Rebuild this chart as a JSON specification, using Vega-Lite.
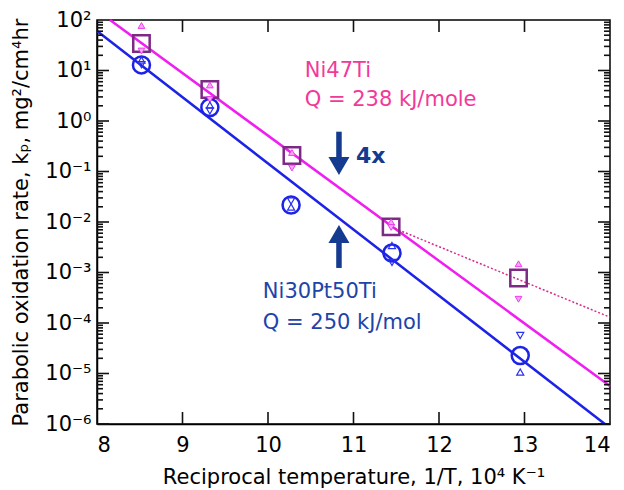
{
  "$schema": "https://vega.github.io/schema/vega-lite/v6.json",
  "width": 513,
  "height": 404,
  "autosize": {"type": "none"},
  "padding": {"left": 97, "top": 20, "right": 14, "bottom": 66},
  "background": "white",
  "config": {
    "view": {"stroke": "#000", "strokeWidth": 1.5}
  },
  "datasets": {
    "lines": [
      {"x": 8.152, "y": 100, "line": "Ni47Ti fit"},
      {"x": 14, "y": 0.00000565, "line": "Ni47Ti fit"},
      {"x": 8, "y": 60.3, "line": "Ni30Pt50Ti fit"},
      {"x": 13.94, "y": 0.000001, "line": "Ni30Pt50Ti fit"},
      {"x": 11.44, "y": 0.0080, "line": "Ni47Ti trend"},
      {"x": 14, "y": 0.00013, "line": "Ni47Ti trend"}
    ],
    "markers": [
      {"x": 8.52, "y": 34.3, "series": "Ni47Ti", "kind": "main"},
      {"x": 9.32, "y": 4.2, "series": "Ni47Ti", "kind": "main"},
      {"x": 10.28, "y": 0.207, "series": "Ni47Ti", "kind": "main"},
      {"x": 11.44, "y": 0.0080, "series": "Ni47Ti", "kind": "main"},
      {"x": 12.93, "y": 0.00078, "series": "Ni47Ti", "kind": "main"},
      {"x": 8.52, "y": 12.9, "series": "Ni30Pt50Ti", "kind": "main"},
      {"x": 9.32, "y": 1.85, "series": "Ni30Pt50Ti", "kind": "main"},
      {"x": 10.27, "y": 0.0217, "series": "Ni30Pt50Ti", "kind": "main"},
      {"x": 11.45, "y": 0.00243, "series": "Ni30Pt50Ti", "kind": "main"},
      {"x": 12.95, "y": 0.0000227, "series": "Ni30Pt50Ti", "kind": "main"},
      {"x": 8.52, "y": 77.8, "series": "Ni47Ti", "kind": "up"},
      {"x": 8.52, "y": 24.3, "series": "Ni47Ti", "kind": "down"},
      {"x": 9.32, "y": 5.16, "series": "Ni47Ti", "kind": "up"},
      {"x": 9.32, "y": 2.67, "series": "Ni47Ti", "kind": "down"},
      {"x": 10.28, "y": 0.238, "series": "Ni47Ti", "kind": "up"},
      {"x": 10.28, "y": 0.117, "series": "Ni47Ti", "kind": "down"},
      {"x": 11.44, "y": 0.0100, "series": "Ni47Ti", "kind": "up"},
      {"x": 11.44, "y": 0.0078, "series": "Ni47Ti", "kind": "down"},
      {"x": 12.93, "y": 0.00149, "series": "Ni47Ti", "kind": "up"},
      {"x": 12.93, "y": 0.000295, "series": "Ni47Ti", "kind": "down"},
      {"x": 8.52, "y": 16.1, "series": "Ni30Pt50Ti", "kind": "up"},
      {"x": 8.52, "y": 13.0, "series": "Ni30Pt50Ti", "kind": "down"},
      {"x": 9.32, "y": 2.07, "series": "Ni30Pt50Ti", "kind": "up"},
      {"x": 9.32, "y": 1.58, "series": "Ni30Pt50Ti", "kind": "down"},
      {"x": 10.27, "y": 0.0198, "series": "Ni30Pt50Ti", "kind": "up"},
      {"x": 10.27, "y": 0.026, "series": "Ni30Pt50Ti", "kind": "down"},
      {"x": 11.45, "y": 0.00343, "series": "Ni30Pt50Ti", "kind": "up"},
      {"x": 11.45, "y": 0.00158, "series": "Ni30Pt50Ti", "kind": "down"},
      {"x": 12.95, "y": 0.0000107, "series": "Ni30Pt50Ti", "kind": "up"},
      {"x": 12.95, "y": 0.0000565, "series": "Ni30Pt50Ti", "kind": "down"}
    ],
    "shafts": [
      {"x": 10.83, "y": 0.614, "y2": 0.169, "dir": "down"},
      {"x": 10.83, "y": 0.00123, "y2": 0.0044, "dir": "up"}
    ],
    "heads": [
      {"x": 10.83, "y": 0.1285, "dir": "down"},
      {"x": 10.83, "y": 0.00578, "dir": "up"}
    ],
    "notes": [
      {"x": 10.43, "y": 7.43, "text": "Ni47Ti", "group": "Ni47Ti"},
      {"x": 10.43, "y": 1.94, "text": "Q = 238 kJ/mole", "group": "Ni47Ti"},
      {"x": 9.94, "y": 0.000313, "text": "Ni30Pt50Ti", "group": "Ni30Pt50Ti"},
      {"x": 9.94, "y": 0.000076, "text": "Q = 250 kJ/mol", "group": "Ni30Pt50Ti"},
      {"x": 11.03, "y": 0.147, "text": "4x", "group": "ratio"}
    ],
    "xticks": [
      {"v": 9, "y0": 0.000001, "y1": 0.000001729},
      {"v": 10, "y0": 0.000001, "y1": 0.000001729},
      {"v": 11, "y0": 0.000001, "y1": 0.000001729},
      {"v": 12, "y0": 0.000001, "y1": 0.000001729},
      {"v": 13, "y0": 0.000001, "y1": 0.000001729},
      {"v": 9, "y0": 100, "y1": 57.83},
      {"v": 10, "y0": 100, "y1": 57.83},
      {"v": 11, "y0": 100, "y1": 57.83},
      {"v": 12, "y0": 100, "y1": 57.83},
      {"v": 13, "y0": 100, "y1": 57.83}
    ],
    "yticks": [
      {"v": 1e-6, "x0": 8, "x1": 8.1404}, {"v": 2e-6, "x0": 8, "x1": 8.0702}, {"v": 3e-6, "x0": 8, "x1": 8.0702}, {"v": 4e-6, "x0": 8, "x1": 8.0702}, {"v": 5e-6, "x0": 8, "x1": 8.0702}, {"v": 6e-6, "x0": 8, "x1": 8.0702}, {"v": 7e-6, "x0": 8, "x1": 8.0702}, {"v": 8e-6, "x0": 8, "x1": 8.0702}, {"v": 9e-6, "x0": 8, "x1": 8.0702},
      {"v": 1e-5, "x0": 8, "x1": 8.1404}, {"v": 2e-5, "x0": 8, "x1": 8.0702}, {"v": 3e-5, "x0": 8, "x1": 8.0702}, {"v": 4e-5, "x0": 8, "x1": 8.0702}, {"v": 5e-5, "x0": 8, "x1": 8.0702}, {"v": 6e-5, "x0": 8, "x1": 8.0702}, {"v": 7e-5, "x0": 8, "x1": 8.0702}, {"v": 8e-5, "x0": 8, "x1": 8.0702}, {"v": 9e-5, "x0": 8, "x1": 8.0702},
      {"v": 1e-4, "x0": 8, "x1": 8.1404}, {"v": 2e-4, "x0": 8, "x1": 8.0702}, {"v": 3e-4, "x0": 8, "x1": 8.0702}, {"v": 4e-4, "x0": 8, "x1": 8.0702}, {"v": 5e-4, "x0": 8, "x1": 8.0702}, {"v": 6e-4, "x0": 8, "x1": 8.0702}, {"v": 7e-4, "x0": 8, "x1": 8.0702}, {"v": 8e-4, "x0": 8, "x1": 8.0702}, {"v": 9e-4, "x0": 8, "x1": 8.0702},
      {"v": 1e-3, "x0": 8, "x1": 8.1404}, {"v": 2e-3, "x0": 8, "x1": 8.0702}, {"v": 3e-3, "x0": 8, "x1": 8.0702}, {"v": 4e-3, "x0": 8, "x1": 8.0702}, {"v": 5e-3, "x0": 8, "x1": 8.0702}, {"v": 6e-3, "x0": 8, "x1": 8.0702}, {"v": 7e-3, "x0": 8, "x1": 8.0702}, {"v": 8e-3, "x0": 8, "x1": 8.0702}, {"v": 9e-3, "x0": 8, "x1": 8.0702},
      {"v": 1e-2, "x0": 8, "x1": 8.1404}, {"v": 2e-2, "x0": 8, "x1": 8.0702}, {"v": 3e-2, "x0": 8, "x1": 8.0702}, {"v": 4e-2, "x0": 8, "x1": 8.0702}, {"v": 5e-2, "x0": 8, "x1": 8.0702}, {"v": 6e-2, "x0": 8, "x1": 8.0702}, {"v": 7e-2, "x0": 8, "x1": 8.0702}, {"v": 8e-2, "x0": 8, "x1": 8.0702}, {"v": 9e-2, "x0": 8, "x1": 8.0702},
      {"v": 0.1, "x0": 8, "x1": 8.1404}, {"v": 0.2, "x0": 8, "x1": 8.0702}, {"v": 0.3, "x0": 8, "x1": 8.0702}, {"v": 0.4, "x0": 8, "x1": 8.0702}, {"v": 0.5, "x0": 8, "x1": 8.0702}, {"v": 0.6, "x0": 8, "x1": 8.0702}, {"v": 0.7, "x0": 8, "x1": 8.0702}, {"v": 0.8, "x0": 8, "x1": 8.0702}, {"v": 0.9, "x0": 8, "x1": 8.0702},
      {"v": 1, "x0": 8, "x1": 8.1404}, {"v": 2, "x0": 8, "x1": 8.0702}, {"v": 3, "x0": 8, "x1": 8.0702}, {"v": 4, "x0": 8, "x1": 8.0702}, {"v": 5, "x0": 8, "x1": 8.0702}, {"v": 6, "x0": 8, "x1": 8.0702}, {"v": 7, "x0": 8, "x1": 8.0702}, {"v": 8, "x0": 8, "x1": 8.0702}, {"v": 9, "x0": 8, "x1": 8.0702},
      {"v": 10, "x0": 8, "x1": 8.1404}, {"v": 20, "x0": 8, "x1": 8.0702}, {"v": 30, "x0": 8, "x1": 8.0702}, {"v": 40, "x0": 8, "x1": 8.0702}, {"v": 50, "x0": 8, "x1": 8.0702}, {"v": 60, "x0": 8, "x1": 8.0702}, {"v": 70, "x0": 8, "x1": 8.0702}, {"v": 80, "x0": 8, "x1": 8.0702}, {"v": 90, "x0": 8, "x1": 8.0702},
      {"v": 1e-6, "x0": 14, "x1": 13.8596}, {"v": 2e-6, "x0": 14, "x1": 13.9298}, {"v": 3e-6, "x0": 14, "x1": 13.9298}, {"v": 4e-6, "x0": 14, "x1": 13.9298}, {"v": 5e-6, "x0": 14, "x1": 13.9298}, {"v": 6e-6, "x0": 14, "x1": 13.9298}, {"v": 7e-6, "x0": 14, "x1": 13.9298}, {"v": 8e-6, "x0": 14, "x1": 13.9298}, {"v": 9e-6, "x0": 14, "x1": 13.9298},
      {"v": 1e-5, "x0": 14, "x1": 13.8596}, {"v": 2e-5, "x0": 14, "x1": 13.9298}, {"v": 3e-5, "x0": 14, "x1": 13.9298}, {"v": 4e-5, "x0": 14, "x1": 13.9298}, {"v": 5e-5, "x0": 14, "x1": 13.9298}, {"v": 6e-5, "x0": 14, "x1": 13.9298}, {"v": 7e-5, "x0": 14, "x1": 13.9298}, {"v": 8e-5, "x0": 14, "x1": 13.9298}, {"v": 9e-5, "x0": 14, "x1": 13.9298},
      {"v": 1e-4, "x0": 14, "x1": 13.8596}, {"v": 2e-4, "x0": 14, "x1": 13.9298}, {"v": 3e-4, "x0": 14, "x1": 13.9298}, {"v": 4e-4, "x0": 14, "x1": 13.9298}, {"v": 5e-4, "x0": 14, "x1": 13.9298}, {"v": 6e-4, "x0": 14, "x1": 13.9298}, {"v": 7e-4, "x0": 14, "x1": 13.9298}, {"v": 8e-4, "x0": 14, "x1": 13.9298}, {"v": 9e-4, "x0": 14, "x1": 13.9298},
      {"v": 1e-3, "x0": 14, "x1": 13.8596}, {"v": 2e-3, "x0": 14, "x1": 13.9298}, {"v": 3e-3, "x0": 14, "x1": 13.9298}, {"v": 4e-3, "x0": 14, "x1": 13.9298}, {"v": 5e-3, "x0": 14, "x1": 13.9298}, {"v": 6e-3, "x0": 14, "x1": 13.9298}, {"v": 7e-3, "x0": 14, "x1": 13.9298}, {"v": 8e-3, "x0": 14, "x1": 13.9298}, {"v": 9e-3, "x0": 14, "x1": 13.9298},
      {"v": 1e-2, "x0": 14, "x1": 13.8596}, {"v": 2e-2, "x0": 14, "x1": 13.9298}, {"v": 3e-2, "x0": 14, "x1": 13.9298}, {"v": 4e-2, "x0": 14, "x1": 13.9298}, {"v": 5e-2, "x0": 14, "x1": 13.9298}, {"v": 6e-2, "x0": 14, "x1": 13.9298}, {"v": 7e-2, "x0": 14, "x1": 13.9298}, {"v": 8e-2, "x0": 14, "x1": 13.9298}, {"v": 9e-2, "x0": 14, "x1": 13.9298},
      {"v": 0.1, "x0": 14, "x1": 13.8596}, {"v": 0.2, "x0": 14, "x1": 13.9298}, {"v": 0.3, "x0": 14, "x1": 13.9298}, {"v": 0.4, "x0": 14, "x1": 13.9298}, {"v": 0.5, "x0": 14, "x1": 13.9298}, {"v": 0.6, "x0": 14, "x1": 13.9298}, {"v": 0.7, "x0": 14, "x1": 13.9298}, {"v": 0.8, "x0": 14, "x1": 13.9298}, {"v": 0.9, "x0": 14, "x1": 13.9298},
      {"v": 1, "x0": 14, "x1": 13.8596}, {"v": 2, "x0": 14, "x1": 13.9298}, {"v": 3, "x0": 14, "x1": 13.9298}, {"v": 4, "x0": 14, "x1": 13.9298}, {"v": 5, "x0": 14, "x1": 13.9298}, {"v": 6, "x0": 14, "x1": 13.9298}, {"v": 7, "x0": 14, "x1": 13.9298}, {"v": 8, "x0": 14, "x1": 13.9298}, {"v": 9, "x0": 14, "x1": 13.9298},
      {"v": 10, "x0": 14, "x1": 13.8596}, {"v": 20, "x0": 14, "x1": 13.9298}, {"v": 30, "x0": 14, "x1": 13.9298}, {"v": 40, "x0": 14, "x1": 13.9298}, {"v": 50, "x0": 14, "x1": 13.9298}, {"v": 60, "x0": 14, "x1": 13.9298}, {"v": 70, "x0": 14, "x1": 13.9298}, {"v": 80, "x0": 14, "x1": 13.9298}, {"v": 90, "x0": 14, "x1": 13.9298}
    ]
  },
  "layer": [
    {
      "data": {"name": "lines"},
      "transform": [{"filter": "datum.line == 'Ni47Ti fit'"}],
      "mark": {"type": "line", "color": "#f01ef0", "strokeWidth": 2.5},
      "encoding": {
        "x": {
          "field": "x", "type": "quantitative",
          "scale": {"domain": [8, 14], "nice": false, "zero": false},
          "axis": {
            "orient": "bottom",
            "values": [8, 9, 10, 11, 12, 13, 14],
            "format": "d",
            "grid": false,
            "domainColor": "#000000",
            "domainWidth": 1.5,
            "ticks": false,
            "labelPadding": 10,
            "labelFont": "DejaVu Sans",
            "labelFontSize": 21,
            "labelColor": "#000000",
            "titlePadding": 11,
            "titleFont": "DejaVu Sans",
            "titleFontSize": 21,
            "titleFontWeight": "normal",
            "titleColor": "#000000",
            "title": "Reciprocal temperature, 1/T, 10⁴ K⁻¹"
          }
        },
        "y": {
          "field": "y", "type": "quantitative",
          "scale": {"type": "log", "domain": [0.000001, 100], "nice": false},
          "axis": {
            "orient": "left",
            "values": [0.000001, 0.00001, 0.0001, 0.001, 0.01, 0.1, 1, 10, 100],
            "grid": false,
            "domainColor": "#000000",
            "domainWidth": 1.5,
            "ticks": false,
            "labelExpr": "['10⁻⁶','10⁻⁵','10⁻⁴','10⁻³','10⁻²','10⁻¹','10⁰','10¹','10²'][round(log(datum.value)/LN10)+6]",
            "labelOverlap": false,
            "labelBaseline": "middle",
            "labelPadding": 6,
            "labelFont": "DejaVu Sans",
            "labelFontSize": 21,
            "labelColor": "#000000",
            "titlePadding": 13,
            "titleFont": "DejaVu Sans",
            "titleFontSize": 21,
            "titleFontWeight": "normal",
            "titleColor": "#000000",
            "title": "Parabolic oxidation rate, kₚ, mg²/cm⁴hr"
          }
        }
      }
    },
    {
      "data": {"name": "lines"},
      "transform": [{"filter": "datum.line == 'Ni30Pt50Ti fit'"}],
      "mark": {"type": "line", "color": "#1c22e6", "strokeWidth": 2.5},
      "encoding": {
        "x": {"field": "x", "type": "quantitative"},
        "y": {"field": "y", "type": "quantitative"}
      }
    },
    {
      "data": {"name": "lines"},
      "transform": [{"filter": "datum.line == 'Ni47Ti trend'"}],
      "mark": {"type": "line", "color": "#d82a8a", "strokeWidth": 1.5, "strokeDash": [2, 2]},
      "encoding": {
        "x": {"field": "x", "type": "quantitative"},
        "y": {"field": "y", "type": "quantitative"}
      }
    },
    {
      "data": {"name": "xticks"},
      "mark": {"type": "rule", "color": "#111111", "strokeWidth": 1.6},
      "encoding": {
        "x": {"field": "v", "type": "quantitative"},
        "y": {"field": "y0", "type": "quantitative"},
        "y2": {"field": "y1"}
      }
    },
    {
      "data": {"name": "yticks"},
      "mark": {"type": "rule", "color": "#111111", "strokeWidth": 1.6},
      "encoding": {
        "y": {"field": "v", "type": "quantitative"},
        "x": {"field": "x0", "type": "quantitative"},
        "x2": {"field": "x1"}
      }
    },
    {
      "data": {"name": "markers"},
      "transform": [{"filter": "datum.series == 'Ni47Ti' && datum.kind == 'main'"}],
      "mark": {"type": "point", "shape": "square", "size": 270, "filled": false, "color": "#7d2a85", "strokeWidth": 2.5, "opacity": 1},
      "encoding": {
        "x": {"field": "x", "type": "quantitative"},
        "y": {"field": "y", "type": "quantitative"}
      }
    },
    {
      "data": {"name": "markers"},
      "transform": [{"filter": "datum.series == 'Ni30Pt50Ti' && datum.kind == 'main'"}],
      "mark": {"type": "point", "shape": "circle", "size": 290, "filled": false, "color": "#1c22e6", "strokeWidth": 2.5, "opacity": 1},
      "encoding": {
        "x": {"field": "x", "type": "quantitative"},
        "y": {"field": "y", "type": "quantitative"}
      }
    },
    {
      "data": {"name": "markers"},
      "transform": [{"filter": "datum.series == 'Ni47Ti' && datum.kind != 'main'"}],
      "mark": {"type": "point", "size": 45, "filled": true, "fill": "#f7a8f3", "stroke": "#f03cf0", "strokeWidth": 1, "opacity": 1},
      "encoding": {
        "x": {"field": "x", "type": "quantitative"},
        "y": {"field": "y", "type": "quantitative"},
        "shape": {"field": "kind", "type": "nominal", "scale": {"domain": ["up", "down"], "range": ["triangle-up", "triangle-down"]}, "legend": null}
      }
    },
    {
      "data": {"name": "markers"},
      "transform": [{"filter": "datum.series == 'Ni30Pt50Ti' && datum.kind != 'main'"}],
      "mark": {"type": "point", "size": 50, "filled": false, "color": "#2a30f0", "strokeWidth": 1.2, "opacity": 1},
      "encoding": {
        "x": {"field": "x", "type": "quantitative"},
        "y": {"field": "y", "type": "quantitative"},
        "shape": {"field": "kind", "type": "nominal", "scale": {"domain": ["up", "down"], "range": ["triangle-up", "triangle-down"]}, "legend": null}
      }
    },
    {
      "data": {"name": "shafts"},
      "mark": {"type": "rule", "color": "#143b8f", "strokeWidth": 5.5},
      "encoding": {
        "x": {"field": "x", "type": "quantitative"},
        "y": {"field": "y", "type": "quantitative"},
        "y2": {"field": "y2"}
      }
    },
    {
      "data": {"name": "heads"},
      "mark": {"type": "point", "size": 441, "filled": true, "color": "#143b8f", "opacity": 1},
      "encoding": {
        "x": {"field": "x", "type": "quantitative"},
        "y": {"field": "y", "type": "quantitative"},
        "shape": {"field": "dir", "type": "nominal", "scale": {"domain": ["down", "up"], "range": ["M-1,-1L1,-1L0,1Z", "M-1,1L1,1L0,-1Z"]}, "legend": null}
      }
    },
    {
      "data": {"name": "notes"},
      "transform": [{"filter": "datum.group == 'Ni47Ti'"}],
      "mark": {"type": "text", "align": "left", "baseline": "alphabetic", "fontSize": 21, "color": "#f2399a", "font": "DejaVu Sans"},
      "encoding": {
        "x": {"field": "x", "type": "quantitative"},
        "y": {"field": "y", "type": "quantitative"},
        "text": {"field": "text"}
      }
    },
    {
      "data": {"name": "notes"},
      "transform": [{"filter": "datum.group == 'Ni30Pt50Ti'"}],
      "mark": {"type": "text", "align": "left", "baseline": "alphabetic", "fontSize": 21, "color": "#1e44a8", "font": "DejaVu Sans"},
      "encoding": {
        "x": {"field": "x", "type": "quantitative"},
        "y": {"field": "y", "type": "quantitative"},
        "text": {"field": "text"}
      }
    },
    {
      "data": {"name": "notes"},
      "transform": [{"filter": "datum.group == 'ratio'"}],
      "mark": {"type": "text", "align": "left", "baseline": "alphabetic", "fontSize": 22, "fontWeight": "bold", "color": "#143b8f", "font": "DejaVu Sans"},
      "encoding": {
        "x": {"field": "x", "type": "quantitative"},
        "y": {"field": "y", "type": "quantitative"},
        "text": {"field": "text"}
      }
    }
  ]
}
